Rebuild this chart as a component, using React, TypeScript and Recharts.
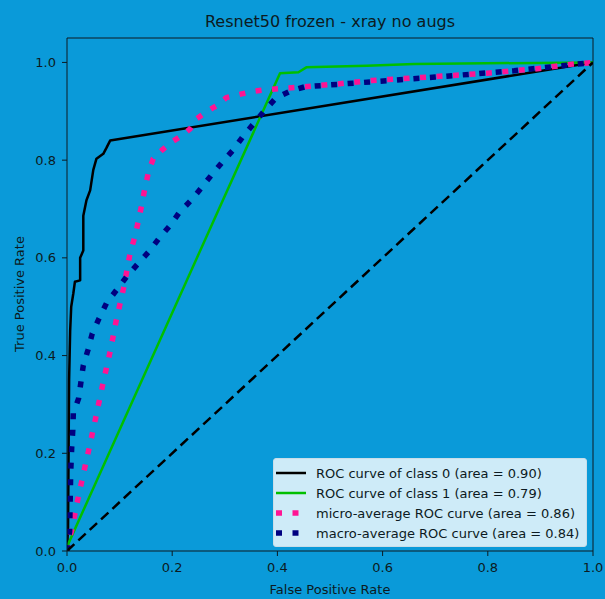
import { Label, Legend, Line, LineChart, ReferenceLine, XAxis, YAxis } from "recharts";

// each series is an ROC curve: [false positive rate, true positive rate]
const class0Fpr = [0, 0.002, 0.003, 0.004, 0.006, 0.008, 0.012, 0.015, 0.025, 0.025, 0.031, 0.031, 0.037, 0.044, 0.05, 0.056, 0.069, 0.075, 0.082, 1];
const class0Tpr = [0, 0.05, 0.2, 0.35, 0.45, 0.5, 0.527, 0.551, 0.554, 0.6, 0.615, 0.686, 0.718, 0.738, 0.78, 0.803, 0.813, 0.825, 0.84, 1];

const class1Fpr = [0, 0.003, 0.405, 0.44, 0.455, 0.57, 0.66, 1];
const class1Tpr = [0, 0.016, 0.978, 0.98, 0.99, 0.993, 0.997, 1];

const microFpr = [0, 0.003, 0.009, 0.021, 0.034, 0.042, 0.055, 0.068, 0.082, 0.094, 0.108, 0.12, 0.129, 0.136, 0.142, 0.148, 0.155, 0.164, 0.18, 0.199, 0.218, 0.234, 0.247, 0.265, 0.285, 0.303, 0.326, 0.354, 0.386, 0.449, 0.515, 0.579, 0.671, 0.798, 0.893, 0.956, 1];
const microTpr = [0, 0.02, 0.043, 0.108, 0.172, 0.21, 0.275, 0.341, 0.408, 0.474, 0.54, 0.61, 0.643, 0.677, 0.708, 0.742, 0.776, 0.803, 0.82, 0.837, 0.85, 0.864, 0.885, 0.899, 0.912, 0.928, 0.934, 0.941, 0.945, 0.95, 0.956, 0.963, 0.969, 0.978, 0.987, 0.996, 1];

const macroFpr = [0, 0.005, 0.006, 0.007, 0.009, 0.011, 0.012, 0.022, 0.031, 0.04, 0.048, 0.061, 0.075, 0.094, 0.113, 0.134, 0.155, 0.175, 0.195, 0.213, 0.236, 0.256, 0.275, 0.296, 0.316, 0.335, 0.356, 0.376, 0.397, 0.424, 0.452, 0.55, 0.7, 0.85, 1];
const macroTpr = [0, 0.04, 0.1, 0.16, 0.213, 0.247, 0.282, 0.312, 0.38, 0.412, 0.445, 0.476, 0.507, 0.534, 0.561, 0.587, 0.612, 0.64, 0.665, 0.692, 0.718, 0.744, 0.77, 0.797, 0.821, 0.849, 0.876, 0.902, 0.927, 0.941, 0.95, 0.958, 0.97, 0.983, 1];

const chanceFpr = [0, 1];
const chanceTpr = [0, 1];

const ticks = [0, 0.2, 0.4, 0.6, 0.8, 1];

const toPoints = (xs: number[], ys: number[]) => xs.map((x, i) => ({ x, y: ys[i] }));

const series = [
  { name: "ROC curve of class 0 (area = 0.90)", data: toPoints(class0Fpr, class0Tpr), color: "#000000", width: 2.5, dash: undefined },
  { name: "ROC curve of class 1 (area = 0.79)", data: toPoints(class1Fpr, class1Tpr), color: "#00bf00", width: 2.5, dash: undefined },
  { name: "micro-average ROC curve (area = 0.86)", data: toPoints(microFpr, microTpr), color: "#ff1493", width: 5.5, dash: "6 10.5" },
  { name: "macro-average ROC curve (area = 0.84)", data: toPoints(macroFpr, macroTpr), color: "#000080", width: 5.5, dash: "6 10.5" }
];

const BG = "#0a9ad9";
const INK = "#0c1a22";
const font = "'DejaVu Sans', sans-serif";

function LegendBox() {
  return (
    <div
      style={{
        background: "rgba(255,255,255,0.8)",
        border: "1px solid #c9dde8",
        borderRadius: 3,
        padding: "4px 4px 3px 1px",
        fontFamily: font,
        fontSize: 13,
        color: INK
      }}
    >
      {series.map((s) => (
        <div key={s.name} style={{ display: "flex", alignItems: "center", height: 20, whiteSpace: "nowrap" }}>
          <svg width={32} height={8} style={{ marginRight: 9 }}>
            <line
              x1={1}
              x2={31}
              y1={4}
              y2={4}
              stroke={s.color}
              strokeWidth={s.dash ? 5.5 : 2.5}
              strokeDasharray={s.dash}
            />
          </svg>
          <span>{s.name}</span>
        </div>
      ))}
    </div>
  );
}

export default function App() {
  return (
    <div style={{ position: "absolute", left: 0, top: 0, width: 605, height: 599, background: BG }}>
      <LineChart width={605} height={599} margin={{ top: 38, right: 12, bottom: 0, left: 0 }}>
        <XAxis
          dataKey="x"
          type="number"
          domain={[0, 1]}
          ticks={ticks}
          tickFormatter={(v: number) => v.toFixed(1)}
          allowDataOverflow
          height={48}
          tickSize={5}
          tickMargin={7}
          stroke={INK}
          tick={{ fill: INK, fontSize: 13, fontFamily: font }}
        >
          <Label value="False Positive Rate" position="insideBottom" offset={5} fill={INK} fontSize={13} fontFamily={font} />
        </XAxis>
        <YAxis
          type="number"
          domain={[0, 1.05]}
          ticks={ticks}
          tickFormatter={(v: number) => v.toFixed(1)}
          allowDataOverflow
          width={67}
          tickSize={5}
          tickMargin={6}
          stroke={INK}
          tick={{ fill: INK, fontSize: 13, fontFamily: font }}
        >
          <Label
            content={() => (
              <text x={19} y={294} transform="rotate(-90 19 294)" textAnchor="middle" dominantBaseline="central" fill={INK} fontSize={13} fontFamily={font}>
                True Positive Rate
              </text>
            )}
          />
        </YAxis>
        {/* frame: top and right spines */}
        <ReferenceLine y={1.05} stroke={INK} strokeWidth={1} ifOverflow="visible">
          <Label value="Resnet50 frozen - xray no augs" position="top" offset={11} fill={INK} fontSize={16} fontFamily={font} />
        </ReferenceLine>
        <ReferenceLine x={1} stroke={INK} strokeWidth={1} ifOverflow="visible" />
        {series.map((s) => (
          <Line
            key={s.name}
            data={s.data}
            dataKey="y"
            name={s.name}
            stroke={s.color}
            strokeWidth={s.width}
            strokeDasharray={s.dash}
            strokeLinecap="butt"
            strokeLinejoin="round"
            dot={false}
            activeDot={false}
            isAnimationActive={false}
          />
        ))}
        <Line
          data={toPoints(chanceFpr, chanceTpr)}
          dataKey="y"
          stroke="#000000"
          strokeWidth={2.5}
          strokeDasharray="10 5.5"
          dot={false}
          activeDot={false}
          legendType="none"
          isAnimationActive={false}
        />
        <Legend
          layout="vertical"
          align="center"
          verticalAlign="middle"
          wrapperStyle={{ left: 273, top: 458, width: 314 }}
          content={() => <LegendBox />}
        />
      </LineChart>
    </div>
  );
}
